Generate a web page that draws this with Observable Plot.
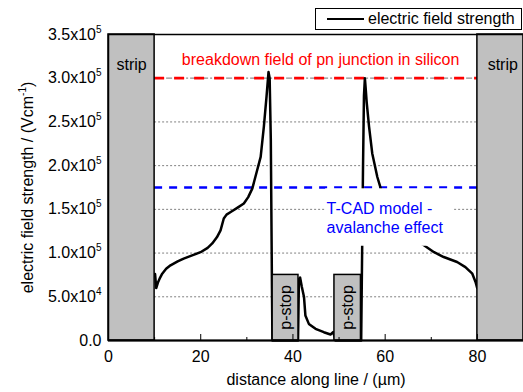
<!DOCTYPE html>
<html><head><meta charset="utf-8">
<script src="https://cdn.jsdelivr.net/npm/d3@7"></script>
<script src="https://cdn.jsdelivr.net/npm/@observablehq/plot@0.6"></script>
<style>
body{margin:0;background:#fff;font-family:"Liberation Sans",Arial,sans-serif;}
#wrap{position:relative;width:523px;height:392px;overflow:hidden;}
#legend{position:absolute;left:315px;top:8px;width:205px;height:20px;border:1px solid #000;background:#fff;font-size:16px;display:flex;align-items:center;white-space:nowrap;}
#legend .sw{display:inline-block;width:37px;height:2.5px;background:#000;margin-left:11px;margin-right:4px;}
</style></head><body>
<div id="wrap"><div id="chart"></div><div id="legend"><span class="sw"></span><span id="legtext"></span></div></div>
<script>
// ---- data ----
const distance = [10.1, 10.35, 10.7, 11.2, 11.65, 12.5, 13.45, 15, 16.3, 18, 19.96, 21.5, 22.5, 23.5, 24.3, 25.0, 25.6, 26.5, 28, 29.35, 30.3, 31.2, 32.25, 33.0, 33.7, 34.27, 34.7, 34.95, 35.2, 35.45, 35.55, 41.1, 41.3, 41.55, 41.9, 42.4, 42.7, 43.45, 44.9, 46.7, 48.15, 48.7, 49.0, 49.2, 54.8, 55.0, 55.2, 55.4, 55.6, 55.75, 56.0, 56.5, 57.2, 58.3, 59.15, 61, 63, 65.5, 68.4, 70.6, 72.7, 75.6, 77.4, 78.9, 79.6, 79.95, 80.0];
const fieldStrength = [76000, 60000, 66000, 72000, 76400, 82000, 86000, 90500, 93700, 97000, 101000, 106000, 111000, 118000, 126000, 139500, 144000, 147000, 152000, 156700, 164000, 174000, 195000, 210000, 245000, 279000, 307000, 300000, 230000, 60000, 0, 0, 70000, 72000, 62000, 49700, 28700, 19000, 13400, 9500, 6900, 9500, 5000, 0, 0, 100000, 200000, 280000, 300000, 290000, 272000, 245000, 214000, 187000, 172000, 148000, 130000, 118000, 109000, 101000, 95500, 89800, 84000, 76400, 67000, 60000, 68000];

const breakdownField = [300000];
const tcadField = [175000];
const gridValues = [50000, 100000, 150000, 200000, 250000];
const gridDashDot = [300000];
const yTicks = [0, 50000, 100000, 150000, 200000, 250000, 300000, 350000];
const xMajorTicks = [0, 20, 40, 60, 80];
const xMinorTicks = [10, 30, 50, 70];

const stripStart = [0, 80];
const stripEnd = [10, 90];
const stripLabel = ["strip", "strip"];
const stripLabelX = [5, 85.5];
const pstopStart = [35.6, 49.0];
const pstopEnd = [41.2, 54.75];
const pstopTop = 75000;
const pstopLabel = ["p-stop", "p-stop"];

const breakdownText = "breakdown field of pn junction in silicon";
const tcadText = ["T-CAD model -", "avalanche effect"];
const legendText = "electric field strength";
const xLabel = "distance along line / (µm)";
const yLabel = "electric field strength / (Vcm^{-1})";

// ---- tables ----
const curve = distance.map((d, i) => ({x: d, y: fieldStrength[i]}));
const strips = stripStart.map((s, i) => ({x1: s, x2: stripEnd[i], cx: stripLabelX[i], label: stripLabel[i]}));
const pstops = pstopStart.map((s, i) => ({x1: s, x2: pstopEnd[i], cx: (s + pstopEnd[i]) / 2, label: pstopLabel[i]}));
const tcadBox = [{x1: 47.1, x2: 74.8, y1: 107800, y2: 173500}];
const tcadLines = tcadText.map((t, i) => ({t, y: [150200, 128400][i]}));

document.getElementById("legtext").textContent = legendText;

const fmt = v => {
  if (v === 0) return "0.0";
  const e = Math.floor(Math.log10(v));
  const m = v / Math.pow(10, e);
  return `${m.toFixed(1)}x10^{${e}}`;
};

const plot = Plot.plot({
  width: 523, height: 392,
  marginLeft: 108, marginRight: 0, marginTop: 34, marginBottom: 52,
  style: {fontFamily: "'Liberation Sans', Arial, sans-serif", fontSize: "16px", color: "#000", background: "#fff"},
  x: {domain: [0, 90]},
  y: {domain: [0, 350000]},
  marks: [
    Plot.ruleY(gridValues, {x1: 10, x2: 80, stroke: "#808080", strokeWidth: 1, strokeDasharray: "2,2"}),
    Plot.ruleY(gridDashDot, {x1: 10, x2: 80, stroke: "#909090", strokeWidth: 1.2, strokeDasharray: "6,2,2,2"}),
    Plot.ruleY(breakdownField, {x1: 10, x2: 80, stroke: "#ff0000", strokeWidth: 2.8, strokeDasharray: "10,10"}),
    Plot.ruleY(tcadField, {x1: 10, x2: 80, stroke: "#0000ff", strokeWidth: 2.5, strokeDasharray: "8,7"}),
    Plot.line(curve, {x: "x", y: "y", stroke: "#000", strokeWidth: 2.5}),
    Plot.rect(tcadBox, {x1: "x1", x2: "x2", y1: "y1", y2: "y2", fill: "#fff"}),
    Plot.text(tcadLines, {x: 47.3, y: "y", text: "t", fill: "#0000ff", textAnchor: "start", fontSize: 16}),
    Plot.text([breakdownText], {x: 46, y: 321000, text: d => d, fill: "#ff0000", fontSize: 16}),
    Plot.rect(strips, {x1: "x1", x2: "x2", y1: 0, y2: 350000, fill: "#c0c0c0", stroke: "#000", strokeWidth: 1.5}),
    Plot.text(strips, {x: "cx", y: 315000, text: "label", fill: "#000", fontSize: 16}),
    Plot.rect(pstops, {x1: "x1", x2: "x2", y1: 0, y2: pstopTop, fill: "#c0c0c0", stroke: "#000", strokeWidth: 1.5}),
    Plot.text(pstops, {x: "cx", y: 37800, text: "label", rotate: -90, fill: "#000", fontSize: 16}),
    Plot.frame({stroke: "#000", strokeWidth: 1.5}),
    Plot.ruleY([0], {stroke: "#000", strokeWidth: 2.2}),
    Plot.axisX(xMajorTicks, {tickSize: 6, dy: -6, tickFormat: () => "", label: null}),
    Plot.axisX(xMinorTicks, {tickSize: 3, dy: -3, tickFormat: () => "", label: null}),
    Plot.axisX(xMajorTicks, {tickSize: 0, tickPadding: 10, fontSize: 16, label: xLabel, labelAnchor: "center", labelOffset: 44, labelArrow: "none"}),
    Plot.axisY(yTicks, {tickSize: 0, tickPadding: 7, fontSize: 16, tickFormat: fmt, label: yLabel, labelAnchor: "center", labelOffset: 87, labelArrow: "none"})
  ]
});

function supify(node) {
  const s = node.textContent;
  if (!s.includes("^{")) return;
  while (node.firstChild) node.removeChild(node.firstChild);
  const parts = s.split(/(\^\{[^}]*\})/);
  let raised = false;
  for (const p of parts) {
    if (!p) continue;
    const sp = document.createElementNS("http://www.w3.org/2000/svg", "tspan");
    if (p.startsWith("^{")) {
      sp.textContent = p.slice(2, -1);
      sp.setAttribute("dy", "-7");
      sp.setAttribute("font-size", "10");
      raised = true;
    } else {
      sp.textContent = p;
      if (raised) { sp.setAttribute("dy", "7"); raised = false; }
    }
    node.appendChild(sp);
  }
}
d3.select(plot).selectAll("text").each(function() { supify(this); });

document.getElementById("chart").appendChild(plot);
</script>
</body></html>
